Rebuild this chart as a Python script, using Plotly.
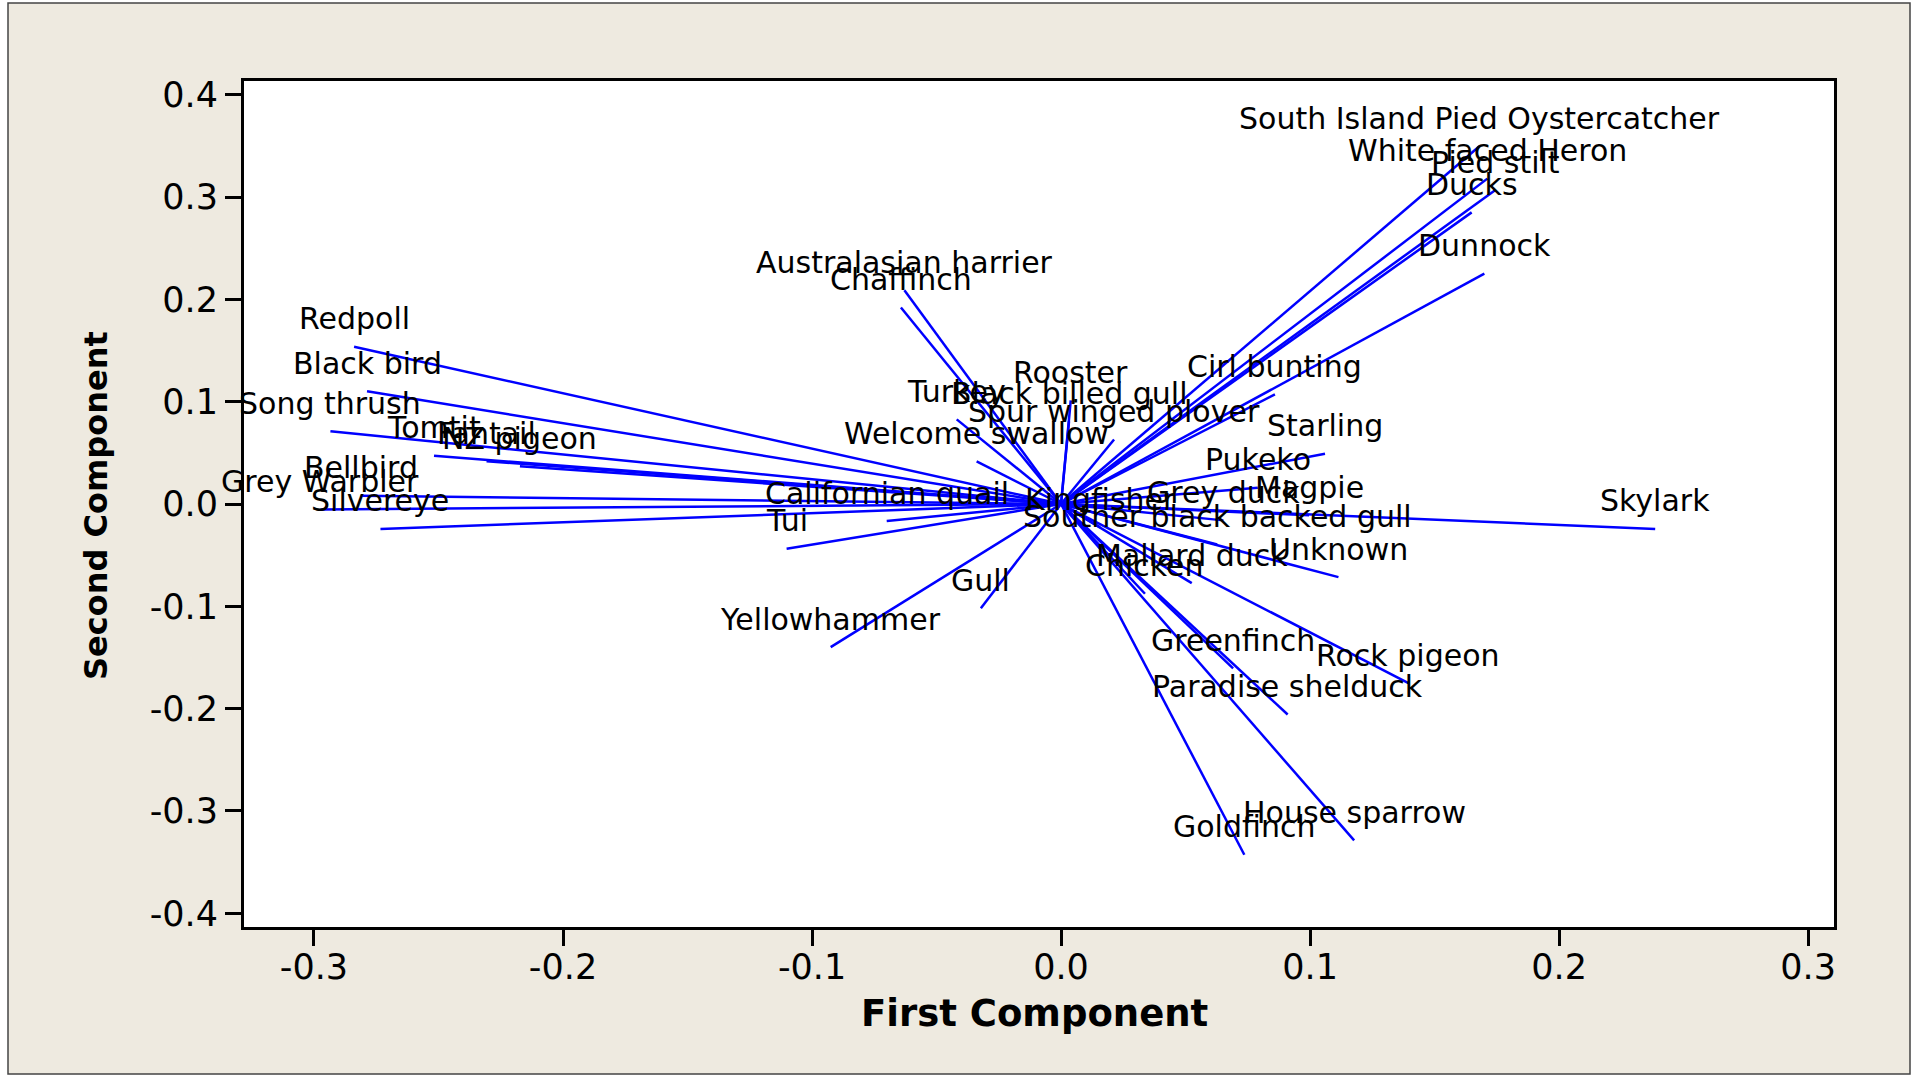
import plotly.graph_objects as go

# Loadings of each bird species on the first two principal components
species = [
    "South Island Pied Oystercatcher", "White faced Heron", "Pied stilt", "Ducks", "Dunnock",
    "Australasian harrier", "Chaffinch", "Redpoll", "Black bird", "Song thrush",
    "Tomtit", "Fantail", "NZ pigeon", "Bellbird", "Grey Warbler", "Silvereye",
    "Californian quail", "Tui", "Turkey", "Black billed gull", "Rooster",
    "Spur winged plover", "Welcome swallow", "Cirl bunting", "Starling", "Pukeko",
    "Grey duck", "Magpie", "Kingfisher", "Souther black backed gull", "Skylark",
    "Unknown", "Mallard duck", "Chicken", "Gull", "Yellowhammer",
    "Greenfinch", "Rock pigeon", "Paradise shelduck", "House sparrow", "Goldfinch",
]
pc1 = [
    0.1680, 0.1712, 0.1743, 0.1649, 0.1700,
    -0.0629, -0.0643, -0.2839, -0.2787, -0.2934,
    -0.2518, -0.2307, -0.2173, -0.2812, -0.2974, -0.2733,
    -0.0700, -0.1102, -0.0419, 0.0032, 0.0039,
    0.0213, -0.0339, 0.0859, 0.1060, 0.0790,
    0.0652, 0.0996, 0.0157, 0.0627, 0.2386,
    0.1114, 0.0525, 0.0337, -0.0322, -0.0925,
    0.0691, 0.1395, 0.0910, 0.1177, 0.0736,
]
pc2 = [
    0.3496, 0.3180, 0.3066, 0.2850, 0.2251,
    0.2088, 0.1921, 0.1537, 0.1101, 0.0710,
    0.0471, 0.0419, 0.0368, 0.0080, -0.0053, -0.0244,
    -0.0167, -0.0437, 0.0827, 0.0807, 0.1013,
    0.0631, 0.0416, 0.1071, 0.0492, 0.0160,
    -0.0160, -0.0111, -0.0229, -0.0395, -0.0244,
    -0.0715, -0.0773, -0.0877, -0.1018, -0.1399,
    -0.1607, -0.1751, -0.2057, -0.3288, -0.3428,
]

x_ticks = [-0.3, -0.2, -0.1, 0.0, 0.1, 0.2, 0.3]
x_tick_text = ["-0.3", "-0.2", "-0.1", "0.0", "0.1", "0.2", "0.3"]
y_ticks = [-0.4, -0.3, -0.2, -0.1, 0.0, 0.1, 0.2, 0.3, 0.4]
y_tick_text = ["-0.4", "-0.3", "-0.2", "-0.1", "0.0", "0.1", "0.2", "0.3", "0.4"]

FONT = "DejaVu Sans"
BEIGE = "#EEEAE0"

# One vector per species, drawn from the origin
lx, ly = [], []
for a, b in zip(pc1, pc2):
    lx += [0, a, None]
    ly += [0, b, None]

fig = go.Figure()
fig.add_trace(go.Scatter(
    x=lx, y=ly, mode="lines",
    line=dict(color="#0000FF", width=2.5),
    hoverinfo="skip", showlegend=False,
))

PLOT_L, PLOT_R, PLOT_T, PLOT_B = 244, 1834, 81, 927
W, H = 1926, 1075
pw, ph = PLOT_R - PLOT_L, PLOT_B - PLOT_T


def px_to_paper_x(px):
    return (px - PLOT_L) / pw


def py_to_paper_y(py):
    return (PLOT_B - py) / ph


annotations = []
for name, a, b in zip(species, pc1, pc2):
    annotations.append(dict(
        x=a, y=b, xref="x", yref="y", text=name, showarrow=False,
        xanchor="center", yanchor="middle", yshift=28,
        font=dict(family=FONT, size=30, color="black"),
    ))

# Axis titles
annotations.append(dict(
    x=px_to_paper_x(1034), y=py_to_paper_y(1013), xref="paper", yref="paper",
    text="<b>First Component</b>", showarrow=False,
    xanchor="center", yanchor="middle",
    font=dict(family=FONT, size=37, color="black"),
))
annotations.append(dict(
    x=px_to_paper_x(96), y=py_to_paper_y(506), xref="paper", yref="paper",
    text="<b>Second Component</b>", showarrow=False,
    xanchor="center", yanchor="middle", textangle=-90,
    font=dict(family=FONT, size=32, color="black"),
))

shapes = [
    # beige frame around the whole graph
    dict(type="rect", xref="paper", yref="paper", layer="below",
         x0=px_to_paper_x(8), x1=px_to_paper_x(1910),
         y0=py_to_paper_y(1074), y1=py_to_paper_y(3),
         fillcolor=BEIGE, line=dict(color="#444444", width=1.5)),
    # white data region
    dict(type="rect", xref="paper", yref="paper", layer="below",
         x0=0, x1=1, y0=0, y1=1, fillcolor="white", line=dict(width=0)),
]

axis_common = dict(
    showgrid=False, zeroline=False, showline=True, mirror=True,
    linecolor="black", linewidth=3, ticks="outside", ticklen=16,
    tickwidth=2.5, tickcolor="black", tickmode="array",
    tickfont=dict(family=FONT, size=35, color="black"),
)

fig.update_layout(
    width=W, height=H,
    margin=dict(l=PLOT_L, r=W - PLOT_R, t=PLOT_T, b=H - PLOT_B),
    paper_bgcolor="white", plot_bgcolor="white",
    xaxis=dict(range=[-0.3281, 0.3104], tickvals=x_ticks, ticktext=x_tick_text,
               ticklabelstandoff=-9, **axis_common),
    yaxis=dict(range=[-0.4134, 0.4134], tickvals=y_ticks, ticktext=y_tick_text,
               **axis_common),
    annotations=annotations, shapes=shapes, showlegend=False,
)

fig.write_html("out.html")
